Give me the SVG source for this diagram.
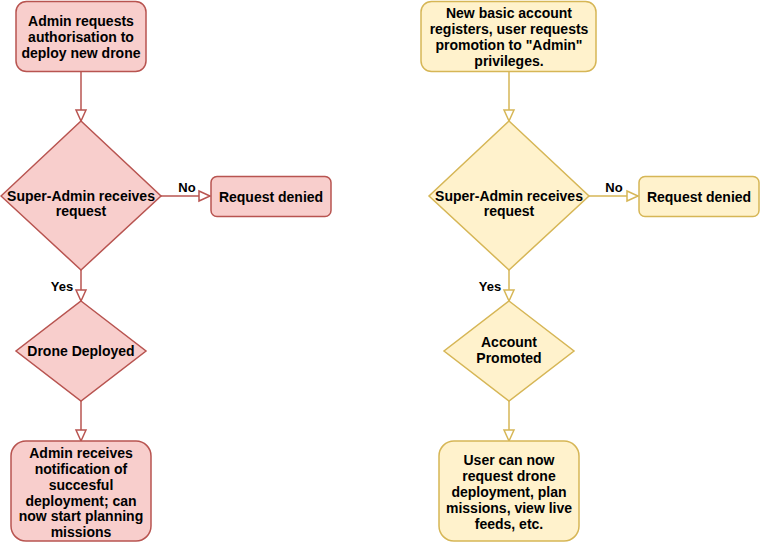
<svg xmlns="http://www.w3.org/2000/svg" width="760" height="542" viewBox="0 0 760 542">
<style>
.red{fill:#f8cecc;stroke:#b85450;stroke-width:1.5}
.yel{fill:#fff2cc;stroke:#d6b656;stroke-width:1.5}
.t{font-family:"Liberation Sans",Arial,Helvetica,sans-serif;font-weight:bold;font-size:14px;fill:#000;text-anchor:middle}
.lbl{font-family:"Liberation Sans",Arial,Helvetica,sans-serif;font-weight:bold;font-size:13px;fill:#000;text-anchor:middle}
.er{fill:none;stroke:#b85450;stroke-width:1.5}
.ey{fill:none;stroke:#d6b656;stroke-width:1.5}
</style>
<defs>
<marker id="ar" markerUnits="userSpaceOnUse" markerWidth="14" markerHeight="14" refX="12" refY="6" orient="auto" viewBox="0 0 14 12">
<path d="M1,1 L12,6 L1,11 Z" fill="#ffffff" stroke="#b85450" stroke-width="1.5"/>
</marker>
<marker id="ay" markerUnits="userSpaceOnUse" markerWidth="14" markerHeight="14" refX="12" refY="6" orient="auto" viewBox="0 0 14 12">
<path d="M1,1 L12,6 L1,11 Z" fill="#ffffff" stroke="#d6b656" stroke-width="1.5"/>
</marker>
</defs>
<rect width="760" height="542" fill="#ffffff"/>
<g id="connectors">
<path class="er" d="M81,71 L81,121" marker-end="url(#ar)"/>
<path class="er" d="M161,196 L210,196" marker-end="url(#ar)"/>
<path class="er" d="M81,270 L81,301" marker-end="url(#ar)"/>
<path class="er" d="M81,401 L81,441" marker-end="url(#ar)"/>
<path class="ey" d="M509,71 L509,121" marker-end="url(#ay)"/>
<path class="ey" d="M589,196 L638,196" marker-end="url(#ay)"/>
<path class="ey" d="M509,270 L509,301" marker-end="url(#ay)"/>
<path class="ey" d="M509,401 L509,441" marker-end="url(#ay)"/>
<text class="lbl" x="187" y="192">No</text>
<text class="lbl" x="62" y="291">Yes</text>
<text class="lbl" x="614" y="192">No</text>
<text class="lbl" x="490" y="291">Yes</text>
</g>
<g id="admin-request">
<rect class="red" x="16" y="1.5" width="130" height="70" rx="10.5"/>
<text class="t" x="81" y="26">Admin requests</text>
<text class="t" x="81" y="42">authorisation to</text>
<text class="t" x="81" y="58">deploy new drone</text>
</g>
<g id="superadmin-left">
<path class="red" d="M81,121 L161,196 L81,270 L1,196 Z"/>
<text class="t" x="81" y="201">Super-Admin receives</text>
<text class="t" x="81" y="216">request</text>
</g>
<g id="denied-left">
<rect class="red" x="211" y="176.5" width="120" height="40" rx="6"/>
<text class="t" x="271" y="202">Request denied</text>
</g>
<g id="drone-deployed">
<path class="red" d="M81,301 L146,351 L81,401 L16,351 Z"/>
<text class="t" x="81" y="356">Drone Deployed</text>
</g>
<g id="admin-notified">
<rect class="red" x="11" y="441" width="140" height="100" rx="15"/>
<text class="t" x="81" y="458">Admin receives</text>
<text class="t" x="81" y="474">notification of</text>
<text class="t" x="81" y="489.5">succesful</text>
<text class="t" x="81" y="505.5">deployment; can</text>
<text class="t" x="81" y="521">now start planning</text>
<text class="t" x="81" y="537">missions</text>
</g>
<g id="basic-account">
<rect class="yel" x="421" y="1.5" width="175" height="70" rx="10.5"/>
<text class="t" x="509" y="18">New basic account</text>
<text class="t" x="509" y="34">registers, user requests</text>
<text class="t" x="509" y="50">promotion to "Admin"</text>
<text class="t" x="509" y="66">privileges.</text>
</g>
<g id="superadmin-right">
<path class="yel" d="M509,121 L589,196 L509,270 L429,196 Z"/>
<text class="t" x="509" y="201">Super-Admin receives</text>
<text class="t" x="509" y="216">request</text>
</g>
<g id="denied-right">
<rect class="yel" x="639" y="176.5" width="120" height="40" rx="6"/>
<text class="t" x="699" y="202">Request denied</text>
</g>
<g id="account-promoted">
<path class="yel" d="M509,301 L574,351 L509,401 L444,351 Z"/>
<text class="t" x="509" y="347">Account</text>
<text class="t" x="509" y="363">Promoted</text>
</g>
<g id="user-can">
<rect class="yel" x="439" y="441" width="140" height="100" rx="15"/>
<text class="t" x="509" y="465">User can now</text>
<text class="t" x="509" y="481">request drone</text>
<text class="t" x="509" y="497">deployment, plan</text>
<text class="t" x="509" y="513">missions, view live</text>
<text class="t" x="509" y="529">feeds, etc.</text>
</g>
</svg>
